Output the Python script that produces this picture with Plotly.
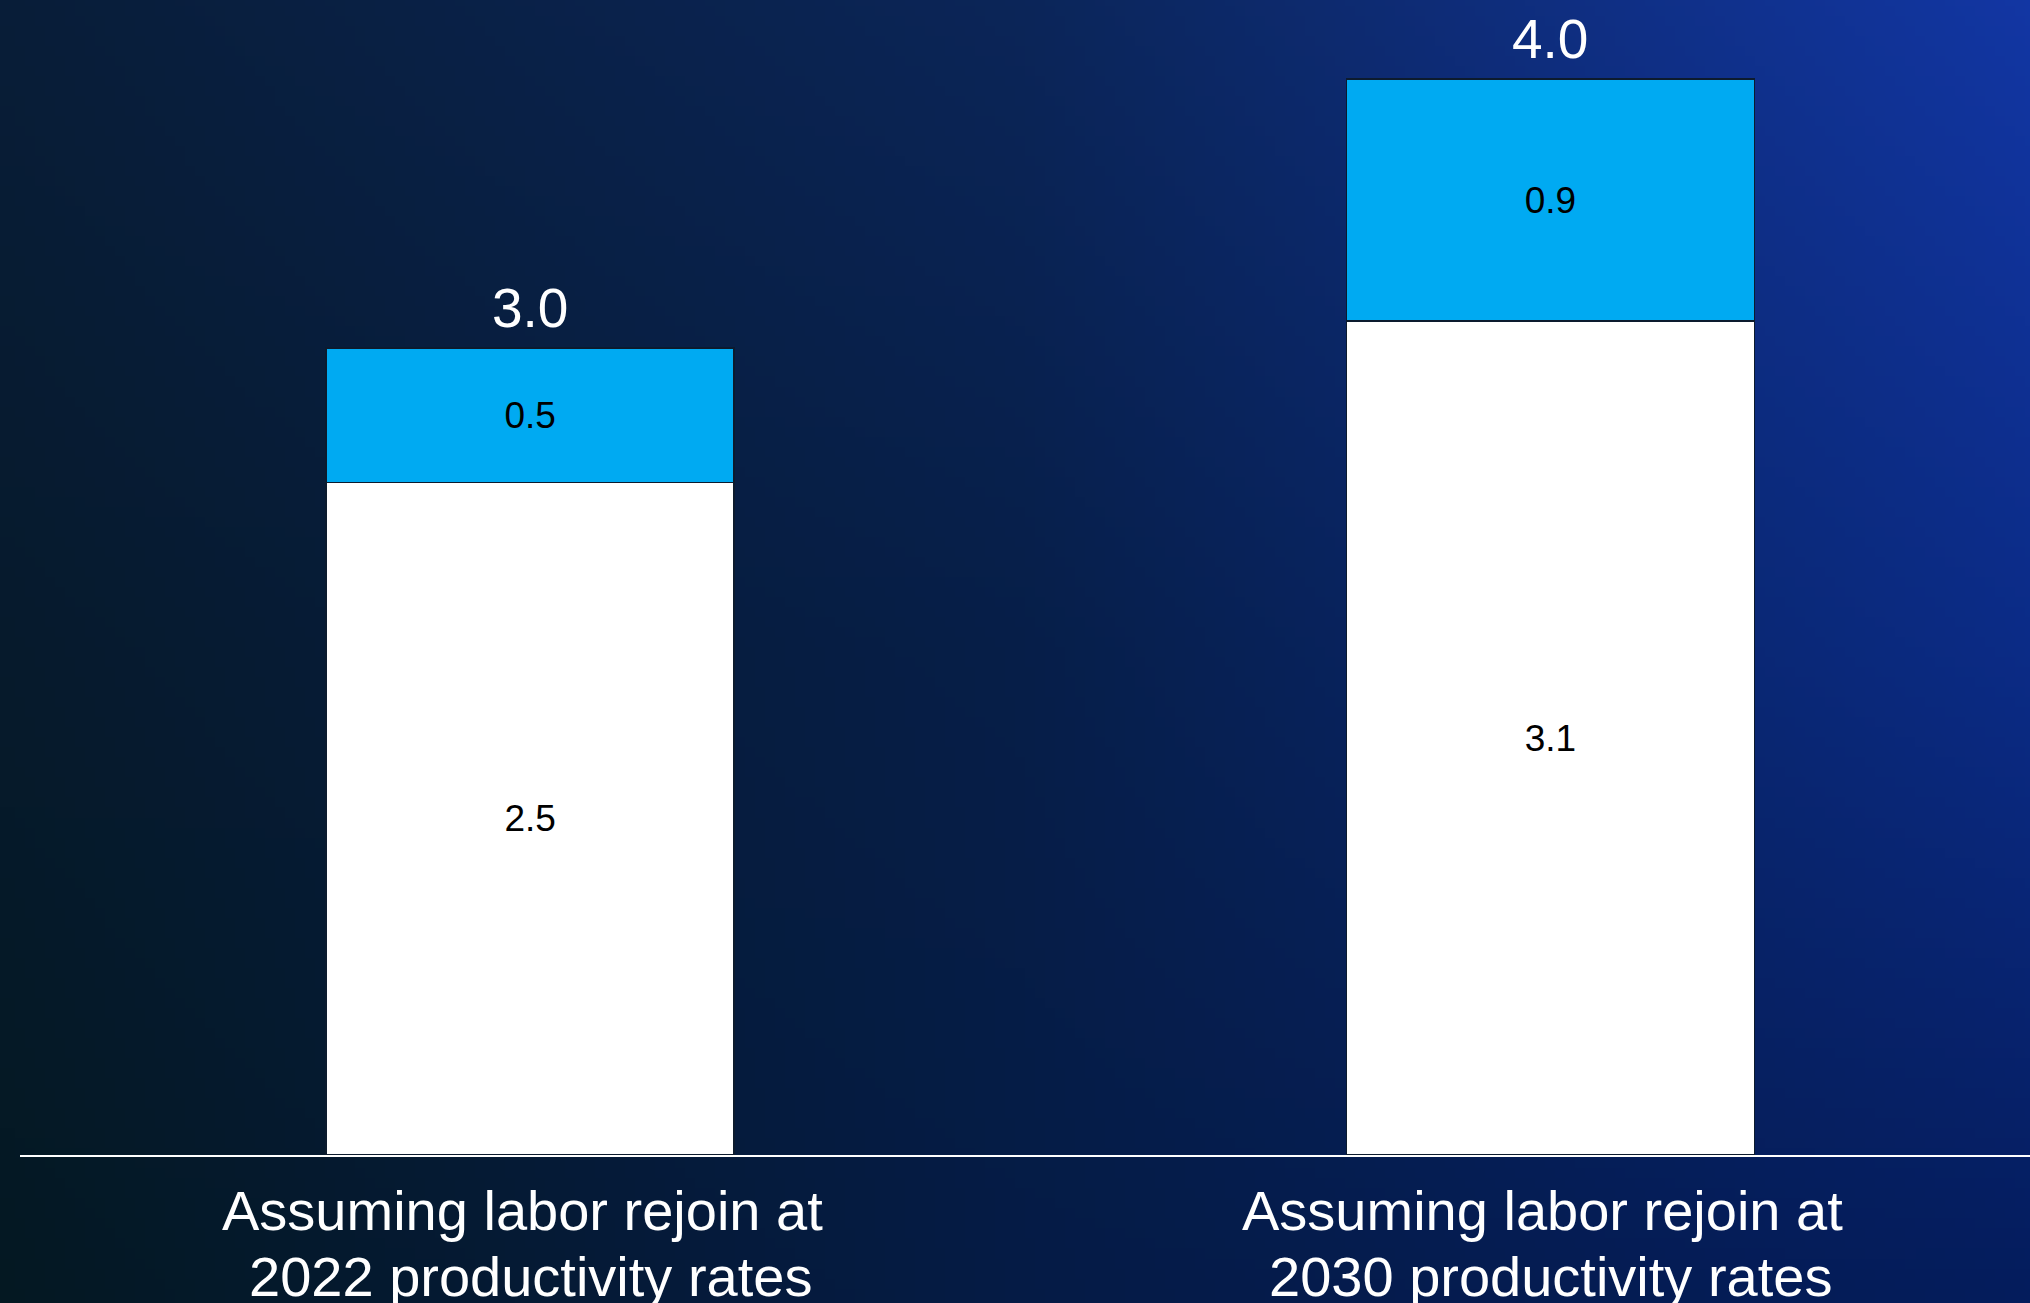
import base64
import struct
import zlib

import numpy as np
import plotly.graph_objects as go

# ---------------- data ----------------
categories = ["2022", "2030"]
label_line1 = ["Assuming labor rejoin at", "Assuming labor rejoin at"]
label_line2 = ["2022 productivity rates", "2030 productivity rates"]
base_values = [2.5, 3.1]
top_values = [0.5, 0.9]
totals = [round(a + b, 1) for a, b in zip(base_values, top_values)]

# ---------------- background gradient (style only) ----------------
grid_hex = [
    ["#081d38", "#0b2558", "#1236a3"],
    ["#061a2c", "#061e48", "#0b2b86"],
    ["#041822", "#051b45", "#041c5c"],
]


def hex2rgb(h):
    h = h.lstrip("#")
    return [int(h[i:i + 2], 16) for i in (0, 2, 4)]


g = np.array([[hex2rgb(c) for c in row] for row in grid_hex], dtype=float)
W, H = 203, 130
ys = np.linspace(0, 2, H)
xs = np.linspace(0, 2, W)
img = np.zeros((H, W, 3))
for i, yv in enumerate(ys):
    y0 = min(int(yv), 1)
    fy = yv - y0
    for j, xv in enumerate(xs):
        x0 = min(int(xv), 1)
        fx = xv - x0
        c = (g[y0, x0] * (1 - fx) * (1 - fy) + g[y0, x0 + 1] * fx * (1 - fy)
             + g[y0 + 1, x0] * (1 - fx) * fy + g[y0 + 1, x0 + 1] * fx * fy)
        img[i, j] = c
img = np.clip(np.round(img), 0, 255).astype(np.uint8)


def make_png(arr):
    h, w, _ = arr.shape
    raw = b"".join(b"\x00" + arr[r].tobytes() for r in range(h))

    def chunk(tag, data):
        c = struct.pack(">I", len(data)) + tag + data
        return c + struct.pack(">I", zlib.crc32(tag + data) & 0xFFFFFFFF)

    return (b"\x89PNG\r\n\x1a\n"
            + chunk(b"IHDR", struct.pack(">IIBBBBB", w, h, 8, 2, 0, 0, 0))
            + chunk(b"IDAT", zlib.compress(raw, 9))
            + chunk(b"IEND", b""))


bg_uri = "data:image/png;base64," + base64.b64encode(make_png(img)).decode()

# ---------------- figure ----------------
FIG_W, FIG_H = 2030, 1303
ML, MR, MT, MB = 20, 0, 0, 148
PLOT_W = FIG_W - ML - MR
PLOT_H = FIG_H - MT - MB
PX_PER_UNIT = 269.0
FONT = "Liberation Sans, Arial, sans-serif"

fig = go.Figure()
fig.add_trace(go.Bar(
    x=categories, y=base_values, width=0.4,
    marker=dict(color="#FFFFFF", line=dict(color="#0c1b2e", width=1.5)),
    texttemplate="%{y:.1f}", textposition="inside", insidetextanchor="middle",
    textangle=0, constraintext="none",
    textfont=dict(color="#000000", size=37, family=FONT),
    showlegend=False, hoverinfo="skip",
))
fig.add_trace(go.Bar(
    x=categories, y=top_values, width=0.4,
    marker=dict(color="#00AAF2", line=dict(color="#0c1b2e", width=1.5)),
    texttemplate="%{y:.1f}", textposition="inside", insidetextanchor="middle",
    textangle=0, constraintext="none",
    textfont=dict(color="#000000", size=37, family=FONT),
    showlegend=False, hoverinfo="skip",
))

annotations = []
for idx, t in enumerate(totals):
    annotations.append(dict(
        x=idx, y=t, xref="x", yref="y", text=f"{t:.1f}", showarrow=False,
        yanchor="bottom", yshift=7,
        font=dict(color="#FFFFFF", size=55, family=FONT),
    ))
for idx, (l1, l2) in enumerate(zip(label_line1, label_line2)):
    annotations.append(dict(
        x=idx, y=0, xref="x", yref="paper", text=l1, showarrow=False,
        yanchor="middle", yshift=-55, xshift=-8,
        font=dict(color="#FFFFFF", size=56, family=FONT),
    ))
    annotations.append(dict(
        x=idx, y=0, xref="x", yref="paper", text=l2, showarrow=False,
        yanchor="middle", yshift=-121,
        font=dict(color="#FFFFFF", size=56, family=FONT),
    ))

fig.update_layout(
    width=FIG_W, height=FIG_H,
    margin=dict(l=ML, r=MR, t=MT, b=MB, pad=0),
    barmode="stack",
    paper_bgcolor="#061d45",
    plot_bgcolor="rgba(0,0,0,0)",
    font=dict(family=FONT, color="#FFFFFF"),
    annotations=annotations,
    images=[dict(
        source=bg_uri, xref="paper", yref="paper",
        x=-ML / PLOT_W, y=1 + MT / PLOT_H,
        sizex=FIG_W / PLOT_W, sizey=FIG_H / PLOT_H,
        xanchor="left", yanchor="top", sizing="stretch", layer="below",
    )],
    xaxis=dict(
        type="category", categoryorder="array", categoryarray=categories,
        range=[-0.5, 1.47], showticklabels=False, ticks="",
        showgrid=False, zeroline=False,
        showline=True, linecolor="#FFFFFF", linewidth=2,
        fixedrange=True,
    ),
    yaxis=dict(
        range=[0, PLOT_H / PX_PER_UNIT], visible=False,
        showgrid=False, zeroline=False, fixedrange=True,
    ),
)

fig.write_html("out.html", config={"displayModeBar": False})
